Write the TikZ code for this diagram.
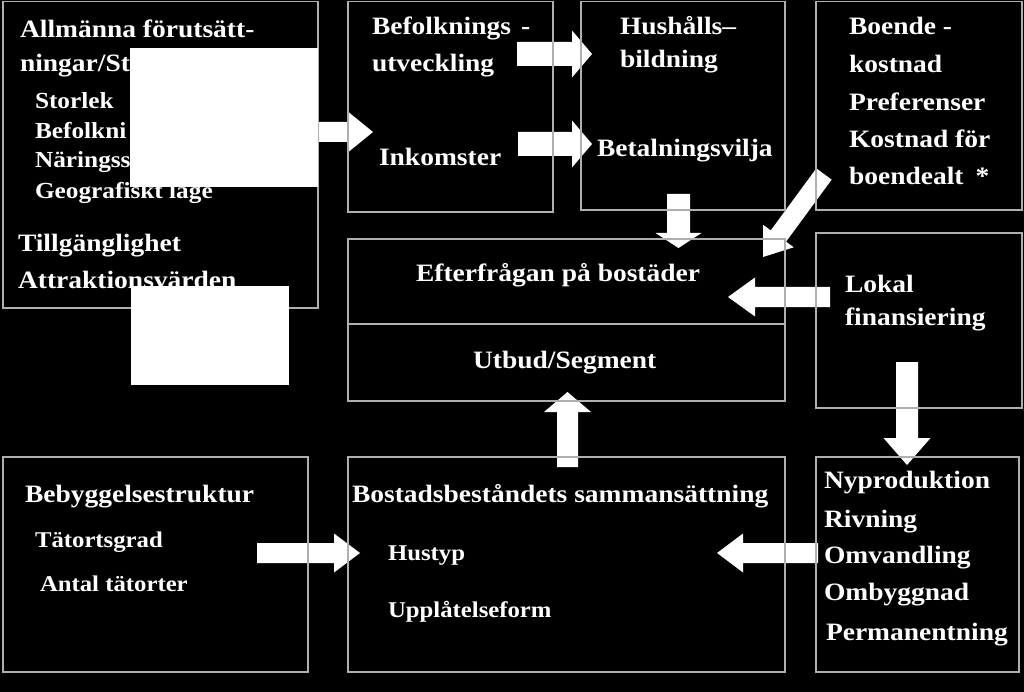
\documentclass[tikz,border=0pt]{standalone}
\usepackage{fontspec}
\setmainfont{Liberation Serif}[FakeStretch=1.1]
\usetikzlibrary{calc}
\definecolor{boxline}{RGB}{175,175,175}
\definecolor{arrowfill}{RGB}{255,255,255}
\newcommand\blockarr[5]{%
  \coordinate (hb) at ($(#2)!#5!(#1)$);
  \fill[arrowfill] ($(#1)!#3!90:(#2)$) -- ($(hb)!#3!-90:(#1)$) -- ($(hb)!#4!-90:(#1)$) -- (#2)
    -- ($(hb)!#4!90:(#1)$) -- ($(hb)!#3!90:(#1)$) -- ($(#1)!#3!-90:(#2)$) -- cycle;}
\begin{document}
\begin{tikzpicture}[x=1pt,y=-1pt,
  box/.style={draw=boxline, line width=1.2pt, inner sep=0pt, outer sep=0pt, anchor=north west},
  lbl/.style={anchor=base west, inner sep=0pt, outer sep=0pt, text=white, font=\bfseries\fontsize{25}{30}\selectfont},
  sm/.style={lbl, font=\bfseries\fontsize{23}{28}\selectfont},
  mask/.style={fill=white, inner sep=0pt, outer sep=0pt, anchor=north west}]
\fill[black] (0,0) rectangle (1024,692);
\useasboundingbox (0,0) rectangle (1024,692);

% arrow end points
\coordinate (a1s) at (318,132);   \coordinate (a1t) at (373,132);
\coordinate (a2s) at (517,54);    \coordinate (a2t) at (592,54);
\coordinate (a3s) at (518,144);   \coordinate (a3t) at (592,144);
\coordinate (a4s) at (678.5,194); \coordinate (a4t) at (678.5,248);
\coordinate (a5s) at (824,174);   \coordinate (a5t) at (763,257);
\coordinate (a6s) at (830,297);   \coordinate (a6t) at (728,297);
\coordinate (a7s) at (907,362);   \coordinate (a7t) at (907,465);
\coordinate (a8s) at (567.5,467); \coordinate (a8t) at (567.5,392);
\coordinate (a9s) at (257,553);   \coordinate (a9t) at (360,553);
\coordinate (a10s) at (818,553);  \coordinate (a10t) at (717,553);

% block arrows
\blockarr{a1s}{a1t}{10pt}{19.5pt}{24pt}
\blockarr{a2s}{a2t}{12pt}{23.5pt}{20pt}
\blockarr{a3s}{a3t}{12pt}{23.5pt}{20pt}
\blockarr{a4s}{a4t}{11.5pt}{23pt}{15pt}
\blockarr{a5s}{a5t}{9.5pt}{19pt}{26pt}
\blockarr{a6s}{a6t}{10pt}{19.5pt}{27pt}
\blockarr{a7s}{a7t}{11pt}{23.5pt}{27pt}
\blockarr{a8s}{a8t}{10.5pt}{23.5pt}{20pt}
\blockarr{a9s}{a9t}{10pt}{19.5pt}{26pt}
\blockarr{a10s}{a10t}{10pt}{19.5pt}{26pt}

% boxes
\node[box, minimum width=315pt, minimum height=306.5pt] (gen) at (3,1.5) {};
\node[box, minimum width=205pt, minimum height=210.5pt] (pop) at (348,1.5) {};
\node[box, minimum width=204pt, minimum height=208.5pt] (hh) at (581,1.5) {};
\node[box, minimum width=206pt, minimum height=208.5pt] (cost) at (816,1.5) {};
\node[box, minimum width=206pt, minimum height=175pt] (fin) at (816,233) {};
\node[box, minimum width=437pt, minimum height=85pt] (dem) at (348,239) {};
\node[box, minimum width=437pt, minimum height=77pt] (sup) at (348,324) {};
\node[box, minimum width=305pt, minimum height=215pt] (settle) at (3,457) {};
\node[box, minimum width=437pt, minimum height=215pt] (stock) at (348,457) {};
\node[box, minimum width=203pt, minimum height=215pt] (change) at (816,457) {};

% texts: general conditions
\node[lbl] (t1) at (20,38) {Allmänna förutsätt-};
\node[lbl] (t2) at (20,72) {ningar/St};
\node[sm] (t3) at (35,109) {Storlek};
\node[sm] (t4) at (35,139) {Befolkni};
\node[sm] (t5) at (35,168) {Näringss};
\node[sm] (t6) at (35,199) {Geografiskt läge};
\node[lbl] (t7) at (18,252) {Tillgänglighet};
\node[lbl] (t8) at (18,289) {Attraktionsvärden};

% population
\node[lbl] (p1) at (372,35) {Befolknings\hspace{10pt}-};
\node[lbl] (p2) at (372,72) {utveckling};
\node[lbl] (p3) at (379,166) {Inkomster};

% households
\node[lbl] (h1) at (620,35) {Hushålls–};
\node[lbl] (h2) at (620,68) {bildning};
\node[lbl] (h3) at (597,157) {Betalningsvilja};

% housing cost
\node[lbl] (c1) at (849,35) {Boende -};
\node[lbl] (c2) at (849,73) {kostnad};
\node[lbl] (c3) at (849,111) {Preferenser};
\node[lbl] (c4) at (849,148) {Kostnad för};
\node[lbl] (c5) at (849,185) {boendealt\hspace{12pt}*};

% local finance
\node[lbl] (f1) at (845,293) {Lokal};
\node[lbl] (f2) at (845,325) {finansiering};

% demand / supply
\node[lbl] (d1) at (416,281) {Efterfrågan på bostäder};
\node[lbl] (s1) at (473,368) {Utbud/Segment};

% settlement structure
\node[lbl] (e1) at (25,502) {Bebyggelsestruktur};
\node[sm, font=\bfseries\fontsize{22.5}{27}\selectfont] (e2) at (35,547) {Tätortsgrad};
\node[sm, font=\bfseries\fontsize{22.5}{27}\selectfont] (e3) at (40,591) {Antal tätorter};

% housing stock
\node[lbl] (k1) at (352,502) {Bostadsbeståndets sammansättning};
\node[sm, font=\bfseries\fontsize{22.5}{27}\selectfont] (k2) at (388,560) {Hustyp};
\node[sm, font=\bfseries\fontsize{22.5}{27}\selectfont] (k3) at (388,617) {Upplåtelseform};

% changes
\node[lbl] (n1) at (824,488) {Nyproduktion};
\node[lbl] (n2) at (824,527) {Rivning};
\node[lbl] (n3) at (824,563) {Omvandling};
\node[lbl] (n4) at (824,600) {Ombyggnad};
\node[lbl] (n5) at (826,640) {Permanentning};

% white masks
\node[mask, minimum width=188pt, minimum height=139pt] (maskA) at (130,48) {};
\node[mask, minimum width=158pt, minimum height=99pt] (maskB) at (131,286) {};
\end{tikzpicture}
\end{document}
